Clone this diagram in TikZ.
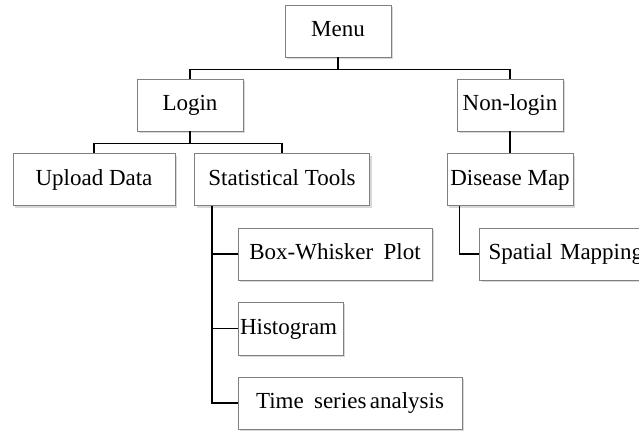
\documentclass[tikz,border=0pt]{standalone}
\usepackage{fontspec}
\setmainfont{Liberation Serif}
\usetikzlibrary{shadows}
\tikzset{
  menubox/.style={draw=black!50, line width=0.8pt, fill=white, rectangle,
    drop shadow={opacity=0.3, shadow xshift=2pt, shadow yshift=-2pt},
    font=\fontsize{23}{27}\selectfont, inner sep=0pt, text height=16pt, text depth=5pt},
  link/.style={draw=black, line width=1.7pt}
}
\begin{document}
\begin{tikzpicture}[x=1pt, y=-1pt]
    \useasboundingbox[fill=white] (0,0) rectangle (639,431);
    % Nodes
    \node[menubox, minimum width=106, minimum height=52] (menu) at (338,31) {Menu};
    \node[menubox, minimum width=106, minimum height=52] (login) at (190,105) {Login};
    \node[menubox, minimum width=106, minimum height=52] (nonlogin) at (510,105) {Non-login};
    \node[menubox, minimum width=162, minimum height=52] (upload) at (94,179.5) {Upload Data};
    \node[menubox, minimum width=175, minimum height=52] (stats) at (282,179.5) {Statistical Tools};
    \node[menubox, minimum width=126, minimum height=52] (disease) at (510,179.5) {Disease Map};
    \node[menubox, minimum width=194, minimum height=52] (boxplot) at (335,254) {Box-Whisker\hspace{0.45em}Plot};
    \node[menubox, text width=101, inner xsep=2, align=left, minimum height=53] (histogram) at (290.5,328.5) {Histogram};
    \node[menubox, minimum width=224, minimum height=52] (timeseries) at (350,403) {Time\hspace{0.45em}series\hspace{0.15em}analysis};
    \node[menubox, text width=171, inner xsep=9, align=left, minimum height=52] (spatial) at (574,254) {Spatial Mapping};
    % Connection
    \draw[link] (menu.south) -- ++(0,12) -| (login.north);
    \draw[link] (menu.south) -- ++(0,12) -| (nonlogin.north);
    \draw[link] (login.south) -- ++(0,12) -| (upload.north);
    \draw[link] (login.south) -- ++(0,12) -| (stats.north);
    \draw[link] (nonlogin) -- (disease);
    \draw[link] (stats.south west) ++(18,0) |- (boxplot.west);
    \draw[link] (stats.south west) ++(18,0) |- (histogram.west);
    \draw[link] (stats.south west) ++(18,0) |- (timeseries.west);
    \draw[link] (disease.south west) ++(13,0) |- (spatial.west);
  \end{tikzpicture}
\end{document}
